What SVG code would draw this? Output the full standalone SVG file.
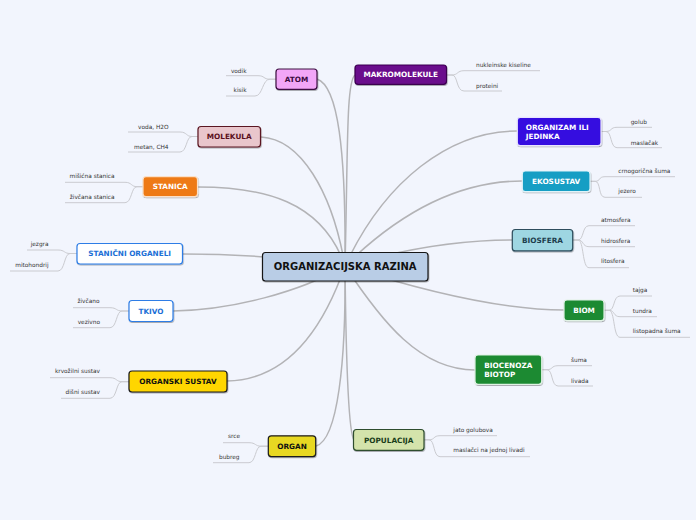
<svg xmlns="http://www.w3.org/2000/svg" width="696" height="520" viewBox="0 0 696 520">
<defs>
<filter id="sh" x="-20%" y="-20%" width="140%" height="160%"><feDropShadow dx="0.6" dy="1" stdDeviation="0.7" flood-color="#000" flood-opacity="0.3"/></filter>
</defs>
<style>
.bg{fill:#f2f5fd}
.main{fill:none;stroke:#b3b3b6;stroke-width:1.5}
.leafl{fill:none;stroke:#cacbd0;stroke-width:1}
.leaf{font-family:"DejaVu Sans",sans-serif;font-size:5.8px;fill:#333}
.lbl{font-family:"DejaVu Sans",sans-serif;font-size:7.3px;font-weight:bold;text-anchor:middle}
.lbl2{font-family:"DejaVu Sans",sans-serif;font-size:7.3px;font-weight:bold}
.box{stroke-width:1.2;filter:url(#sh)}
.end{text-anchor:end}
</style>
<rect class="bg" x="0" y="0" width="696" height="520"/>
<g id="connectors">
<path class="main" d="M345,266 C346,150 338,86 317,79"/>
<path class="main" d="M345,266 C332,190 300,139 261,137"/>
<path class="main" d="M345,266 C322,200 262,187 198,187"/>
<path class="main" d="M345,266 C300,258 235,254 183,254"/>
<path class="main" d="M345,266 C300,292 232,310 173,311"/>
<path class="main" d="M345,266 C322,332 285,380 227,381"/>
<path class="main" d="M345,266 C346,360 338,440 316,446"/>
<path class="main" d="M345,266 C346,360 348,432 354,440"/>
<path class="main" d="M345,266 C348,150 346,82 355,75"/>
<path class="main" d="M345,266 C385,180 450,131 517,131"/>
<path class="main" d="M345,266 C400,212 460,181 522,181"/>
<path class="main" d="M345,266 C400,250 460,240 512,240"/>
<path class="main" d="M345,266 C420,290 500,310 564,310"/>
<path class="main" d="M345,266 C382,322 420,370 475,370"/>
<!-- leaf lines right -->
<path class="leafl" d="M447,75 H452 C458,75 457,70.7 464,70.7 H540"/>
<path class="leafl" d="M447,75 H452 C458,75 456,91 464,91 H502"/>
<path class="leafl" d="M601,131.5 H606 C612,131.5 610,127.3 617,127.3 H652"/>
<path class="leafl" d="M601,131.5 H606 C612,131.5 610,147.7 617,147.7 H662"/>
<path class="leafl" d="M590,181.3 H595 C601,181.3 598,176.7 605,176.7 H675"/>
<path class="leafl" d="M590,181.3 H595 C601,181.3 598,197.3 605,197.3 H642"/>
<path class="leafl" d="M573,240 H578 C584,240 582,225.7 589,225.7 H635"/>
<path class="leafl" d="M573,240 H578 C584,240 582,246.7 589,246.7 H635"/>
<path class="leafl" d="M573,240 H578 C584,240 582,267.7 589,267.7 H629"/>
<path class="leafl" d="M604,310.3 H609 C615,310.3 613,296 620,296 H652"/>
<path class="leafl" d="M604,310.3 H609 C615,310.3 613,316.7 620,316.7 H657"/>
<path class="leafl" d="M604,310.3 H609 C615,310.3 613,337.3 620,337.3 H690"/>
<path class="leafl" d="M542,369.7 H547 C553,369.7 551,365.7 558,365.7 H592"/>
<path class="leafl" d="M542,369.7 H547 C553,369.7 551,386 558,386 H593"/>
<path class="leafl" d="M424,439.8 H429 C435,439.8 433,435.7 440,435.7 H497"/>
<path class="leafl" d="M424,439.8 H429 C435,439.8 433,456.7 440,456.7 H530"/>
<!-- leaf lines left -->
<path class="leafl" d="M226,75.7 H258 C265,75.7 263,79.2 270,79.2 H276"/>
<path class="leafl" d="M226,96 H255 C263,96 262,79.2 270,79.2 H276"/>
<path class="leafl" d="M128,132 H180 C187,132 186,136.5 192,136.5 H198"/>
<path class="leafl" d="M128,152 H180 C187,152 186,136.5 192,136.5 H198"/>
<path class="leafl" d="M65,182.3 H125 C132,182.3 131,186.7 137,186.7 H143"/>
<path class="leafl" d="M65,202.7 H125 C132,202.7 131,186.7 137,186.7 H143"/>
<path class="leafl" d="M27,250 H58 C65,250 64,253.5 70,253.5 H77"/>
<path class="leafl" d="M10,271 H58 C65,271 64,253.5 70,253.5 H77"/>
<path class="leafl" d="M73,307.7 H110 C117,307.7 116,311 122,311 H129"/>
<path class="leafl" d="M73,327.7 H110 C117,327.7 116,311 122,311 H129"/>
<path class="leafl" d="M50,377.7 H110 C117,377.7 116,381.7 122,381.7 H129"/>
<path class="leafl" d="M61,398.3 H110 C117,398.3 116,381.7 122,381.7 H129"/>
<path class="leafl" d="M223,442.7 H249 C256,442.7 255,446.2 261,446.2 H268"/>
<path class="leafl" d="M213,462.7 H249 C256,462.7 255,446.2 261,446.2 H268"/>
</g>
<g id="center">
<rect class="box" x="262.5" y="252.5" width="165.5" height="28.5" rx="3" fill="#b9cde6" stroke="#151515"/>
<text x="345.2" y="270.2" font-family="DejaVu Sans, sans-serif" font-size="10px" font-weight="bold" text-anchor="middle" fill="#111">ORGANIZACIJSKA RAZINA</text>
</g>
<g id="atom">
<rect class="box" x="276" y="69" width="41" height="20.3" rx="3" fill="#f2a6f7" stroke="#3c1042"/>
<text class="lbl" x="296.5" y="81.8" fill="#3a0a40">ATOM</text>
<text class="leaf end" x="246.5" y="72.8">vodik</text>
<text class="leaf end" x="246.5" y="92">kisik</text>
</g>
<g id="makromolekule">
<rect class="box" x="355" y="65" width="91.5" height="19.3" rx="3" fill="#6b0b8c" stroke="#3a0050"/>
<text class="lbl" x="400.7" y="77.3" fill="#fff">MAKROMOLEKULE</text>
<text class="leaf" x="476" y="66.5">nukleinske kiseline</text>
<text class="leaf" x="476" y="87.5">proteini</text>
</g>
<g id="molekula">
<rect class="box" x="198" y="126.5" width="62.5" height="20.5" rx="3" fill="#e9c6cc" stroke="#5a1520"/>
<text class="lbl" x="229.2" y="139.3" fill="#5a1020">MOLEKULA</text>
<text class="leaf end" x="168.5" y="129">voda, H2O</text>
<text class="leaf end" x="168.5" y="149">metan, CH4</text>
</g>
<g id="stanica">
<rect class="box" x="143" y="176.7" width="54.5" height="20" rx="3" fill="#ee7a12" stroke="#fbe0c8"/>
<text class="lbl" x="170.2" y="189.3" fill="#fff">STANICA</text>
<text class="leaf end" x="114.5" y="178.2">mišićna stanica</text>
<text class="leaf end" x="114.5" y="199.3">živčana stanica</text>
</g>
<g id="stanicni-organeli">
<rect class="box" x="77" y="243.5" width="105.5" height="20.5" rx="3" fill="#fff" stroke="#2d7de6"/>
<text class="lbl" x="129.7" y="256.3" fill="#1c6fd6">STANIČNI ORGANELI</text>
<text class="leaf end" x="48.5" y="246.3">jezgra</text>
<text class="leaf end" x="48.5" y="267">mitohondrij</text>
</g>
<g id="tkivo">
<rect class="box" x="129" y="300.5" width="44" height="21" rx="3" fill="#fff" stroke="#2d7de6"/>
<text class="lbl" x="151" y="313.6" fill="#1c6fd6">TKIVO</text>
<text class="leaf end" x="99.5" y="302.8">živčano</text>
<text class="leaf end" x="100" y="323.8">vezivno</text>
</g>
<g id="organski-sustav">
<rect class="box" x="129" y="371" width="98" height="21" rx="3" fill="#ffd600" stroke="#1a1a1a"/>
<text class="lbl" x="178" y="384.2" fill="#111">ORGANSKI SUSTAV</text>
<text class="leaf end" x="100" y="373">krvožilni sustav</text>
<text class="leaf end" x="100" y="393.8">dišni sustav</text>
</g>
<g id="organ">
<rect class="box" x="268.3" y="435.8" width="47.4" height="20.8" rx="3" fill="#e8d820" stroke="#1a1a1a"/>
<text class="lbl" x="292" y="448.8" fill="#111">ORGAN</text>
<text class="leaf end" x="240" y="437.8">srce</text>
<text class="leaf end" x="239.5" y="458.8">bubreg</text>
</g>
<g id="populacija">
<rect class="box" x="353.5" y="429.5" width="70.5" height="20.8" rx="3" fill="#d4e3ab" stroke="#2d4d2d"/>
<text class="lbl" x="388.7" y="442.5" fill="#1a3d1a">POPULACIJA</text>
<text class="leaf" x="453.3" y="432">jato golubova</text>
<text class="leaf" x="453.3" y="452.2">maslačci na jednoj livadi</text>
</g>
<g id="organizam-ili-jedinka">
<rect class="box" x="517.3" y="117.3" width="83.7" height="28.4" rx="3" fill="#3510e0" stroke="#e8e4ff"/>
<text class="lbl2" x="525.7" y="130" fill="#fff">ORGANIZAM ILI</text>
<text class="lbl2" x="525.7" y="139.4" fill="#fff">JEDINKA</text>
<text class="leaf" x="630.7" y="124.4">golub</text>
<text class="leaf" x="630.7" y="144.5">maslačak</text>
</g>
<g id="ekosustav">
<rect class="box" x="522.3" y="171" width="67.7" height="20.7" rx="3" fill="#159ec4" stroke="#e0f4fa"/>
<text class="lbl" x="556.2" y="184" fill="#fff">EKOSUSTAV</text>
<text class="leaf" x="618.3" y="173.1">crnogorična šuma</text>
<text class="leaf" x="618.3" y="193.1">jezero</text>
</g>
<g id="biosfera">
<rect class="box" x="512.3" y="229.5" width="60.4" height="21.4" rx="3" fill="#9ed6e2" stroke="#2d4d5d"/>
<text class="lbl" x="542.5" y="242.8" fill="#1d3d4d">BIOSFERA</text>
<text class="leaf" x="601" y="222.1">atmosfera</text>
<text class="leaf" x="601" y="243.1">hidrosfera</text>
<text class="leaf" x="601" y="263.1">litosfera</text>
</g>
<g id="biom">
<rect class="box" x="564" y="300" width="40" height="20.7" rx="3" fill="#1b8a33" stroke="#e0f2e4"/>
<text class="lbl" x="584" y="313" fill="#fff">BIOM</text>
<text class="leaf" x="632.7" y="292.1">tajga</text>
<text class="leaf" x="632.7" y="312.8">tundra</text>
<text class="leaf" x="632.7" y="332.8">listopadna šuma</text>
</g>
<g id="biocenoza-biotop">
<rect class="box" x="475" y="355" width="66.7" height="29.3" rx="3" fill="#1b8a33" stroke="#e0f2e4"/>
<text class="lbl2" x="484.3" y="368.3" fill="#fff">BIOCENOZA</text>
<text class="lbl2" x="484.3" y="377.4" fill="#fff">BIOTOP</text>
<text class="leaf" x="571" y="362.1">šuma</text>
<text class="leaf" x="571" y="383.1">livada</text>
</g>
</svg>
